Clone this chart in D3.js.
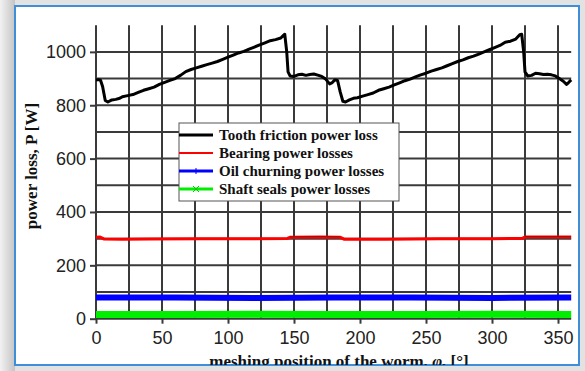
<!DOCTYPE html>
<html><head><meta charset="utf-8">
<script src="https://cdn.jsdelivr.net/npm/d3@7"></script>
<style>html,body{margin:0;padding:0;background:#fff;}svg{display:block;}</style>
</head><body>
<svg id="chart" width="585" height="371"></svg>
<script>
// ---- data ----
const toothX = [0,2,3.5,5,7,9,12,15,18,20,24,28,32,36,40,44,48,52,56,60,64,68,72,76,80,84,88,92,96,100,104,108,112,116,120,124,128,132,136,140,142,143,144.5,145.5,147,150,153,156,159,162,165,168,171,174,177,179,181,183,185,187,189,192,195,198,202,206,210,214,218,222,226,230,234,238,242,246,250,254,258,262,266,270,274,278,282,286,290,294,298,302,306,310,314,318,321,322.5,324,325,327,330,333,336,339,342,345,348,351,354,356.5,358,360];
const toothY = [895,896,893,870,818,812,820,822,826,832,836,840,848,856,862,868,878,886,893,900,912,926,934,940,946,952,958,964,972,980,988,996,1002,1010,1018,1026,1034,1042,1046,1052,1062,1066,1000,925,910,908,914,916,912,915,917,913,908,898,880,885,895,893,850,815,812,820,826,828,834,840,846,856,862,868,876,884,892,898,906,914,920,928,934,940,948,956,964,970,978,984,992,1000,1008,1016,1024,1036,1040,1048,1064,1066,1000,925,910,912,920,918,915,916,914,910,900,890,878,885,895];
const bearingX = [0,3,6,20,40,80,120,145,147,170,185,188,220,260,300,323,325,360];
const bearingY = [305,306,299,298,299,300,300,301,305,306,305,298,298,300,300,301,306,306];
const oilX = [0,60,120,180,240,300,360];
const oilY = [79,79,78,79,79,78,79];
const sealX = [0,60,120,180,240,300,360];
const sealY = [16,16,17,16,16,17,16];
const xTicks = [0,50,100,150,200,250,300,350];
const yTicks = [0,200,400,600,800,1000];
const legendLabels = ["Tooth friction power loss","Bearing power losses","Oil churning power losses","Shaft seals power losses"];
const seriesColors = ["#000000","#ff0000","#0000ff","#00ee00"];

// ---- frame ----
const svg = d3.select("#chart");
const defs = svg.append("defs");
const lg = defs.append("linearGradient").attr("id","lg").attr("x1","0").attr("x2","1");
lg.append("stop").attr("offset","0").attr("stop-color","#f2f2f2");
lg.append("stop").attr("offset","1").attr("stop-color","#c4c4c4");
defs.append("clipPath").attr("id","frameClip").append("rect").attr("x",15).attr("y",7).attr("width",564).attr("height",358);
svg.append("rect").attr("width",585).attr("height",371).attr("fill","#e2e2e2");
svg.append("rect").attr("x",0).attr("y",0).attr("width",15).attr("height",371).attr("fill","url(#lg)");
svg.append("rect").attr("x",15).attr("y",6).attr("width",564).attr("height",359).attr("fill","#fff").attr("stroke","#3f8ed8").attr("stroke-width",2);

const g = svg.append("g").attr("clip-path","url(#frameClip)");

// ---- scales ----
const x = d3.scaleLinear().domain([0,360]).range([96,571.2]);
const y = d3.scaleLinear().domain([0,1100]).range([318.7,25.2]);

// grid
const gridColor = "#3a3a3a";
g.append("g").selectAll("line").data(d3.range(0,351,25)).join("line")
  .attr("x1",d=>x(d)).attr("x2",d=>x(d)).attr("y1",y(1100)).attr("y2",y(0))
  .attr("stroke",gridColor).attr("stroke-width",2);
g.append("g").selectAll("line").data(d3.range(0,1001,100)).join("line")
  .attr("x1",x(0)).attr("x2",x(360)).attr("y1",d=>y(d)).attr("y2",d=>y(d))
  .attr("stroke",gridColor).attr("stroke-width",2);

// axes
const xAxis = d3.axisBottom(x).tickValues(xTicks).tickFormat(d3.format("d")).tickSize(5).tickPadding(8);
const yAxis = d3.axisLeft(y).tickValues(yTicks).tickFormat(d3.format("d")).tickSize(6).tickPadding(4);
const xa = g.append("g").attr("transform",`translate(0,${y(0)})`).call(xAxis);
const ya = g.append("g").attr("transform",`translate(${x(0)},0)`).call(yAxis);
[xa,ya].forEach(a=>{
  a.select(".domain").remove();
  a.selectAll(".tick line").attr("stroke",gridColor).attr("stroke-width",2);
  a.selectAll("text").attr("fill","#222").style("font-family","'Liberation Sans',Arial,sans-serif").style("font-size","18px");
});

// series
const line = d3.line().x(d=>x(d[0])).y(d=>y(d[1]));
const zip = (a,b)=>a.map((v,i)=>[v,b[i]]);
g.append("path").datum(zip(sealX,sealY)).attr("d",line).attr("fill","none").attr("stroke","#00ee00").attr("stroke-width",7);
g.append("path").datum(zip(oilX,oilY)).attr("d",line).attr("fill","none").attr("stroke","#0000ff").attr("stroke-width",6);
const bear = zip(bearingX,bearingY);
g.append("path").datum(bear).attr("d",line).attr("fill","none").attr("stroke","#ff0000").attr("stroke-width",3);
[[147,185],[325,360]].forEach(([a,b])=>{
  g.append("path").datum(bear.filter(d=>d[0]>=a&&d[0]<=b)).attr("d",line).attr("fill","none").attr("stroke","#222").attr("stroke-width",0.8).attr("stroke-opacity",0.6).attr("transform","translate(0,-0.5)");
});
g.append("path").datum(zip(toothX,toothY)).attr("d",line).attr("fill","none").attr("stroke","#000").attr("stroke-width",3).attr("stroke-linejoin","round");

// axis titles
g.append("text").attr("transform","translate(37,166) rotate(-90)").attr("text-anchor","middle")
  .style("font-family","'Liberation Serif','Times New Roman',serif").style("font-weight","bold").style("font-size","17px").attr("fill","#111")
  .text("power loss, P [W]");
const xt = g.append("text").attr("x",339).attr("y",367).attr("text-anchor","middle")
  .style("font-family","'Liberation Serif','Times New Roman',serif").style("font-weight","bold").style("font-size","17px").attr("fill","#111");
xt.append("tspan").text("meshing position of the worm, ");
xt.append("tspan").style("font-style","italic").text("φ");
xt.append("tspan").text(", [°]");

// legend
const leg = g.append("g");
leg.append("rect").attr("x",179).attr("y",123).attr("width",220).attr("height",78).attr("fill","#fff").attr("stroke","#555").attr("stroke-width",1);
const rows = leg.selectAll("g.row").data(legendLabels).join("g").attr("class","row")
  .attr("transform",(d,i)=>`translate(0,${135+i*18})`);
rows.append("line").attr("x1",179).attr("x2",213).attr("y1",0).attr("y2",0)
  .attr("stroke",(d,i)=>seriesColors[i]).attr("stroke-width",(d,i)=>i===1?2:3);
rows.filter((d,i)=>i===2).append("line").attr("x1",196).attr("x2",196).attr("y1",-3).attr("y2",3).attr("stroke","#0000ff").attr("stroke-width",1);
rows.filter((d,i)=>i===3).append("path").attr("d","M193,-3L199,3M193,3L199,-3").attr("stroke","#00cc00").attr("stroke-width",1);
rows.append("text").attr("x",219).attr("y",5)
  .style("font-family","'Liberation Serif','Times New Roman',serif").style("font-weight","bold").style("font-size","15px").attr("fill","#111")
  .text(d=>d);
</script>
</body></html>
